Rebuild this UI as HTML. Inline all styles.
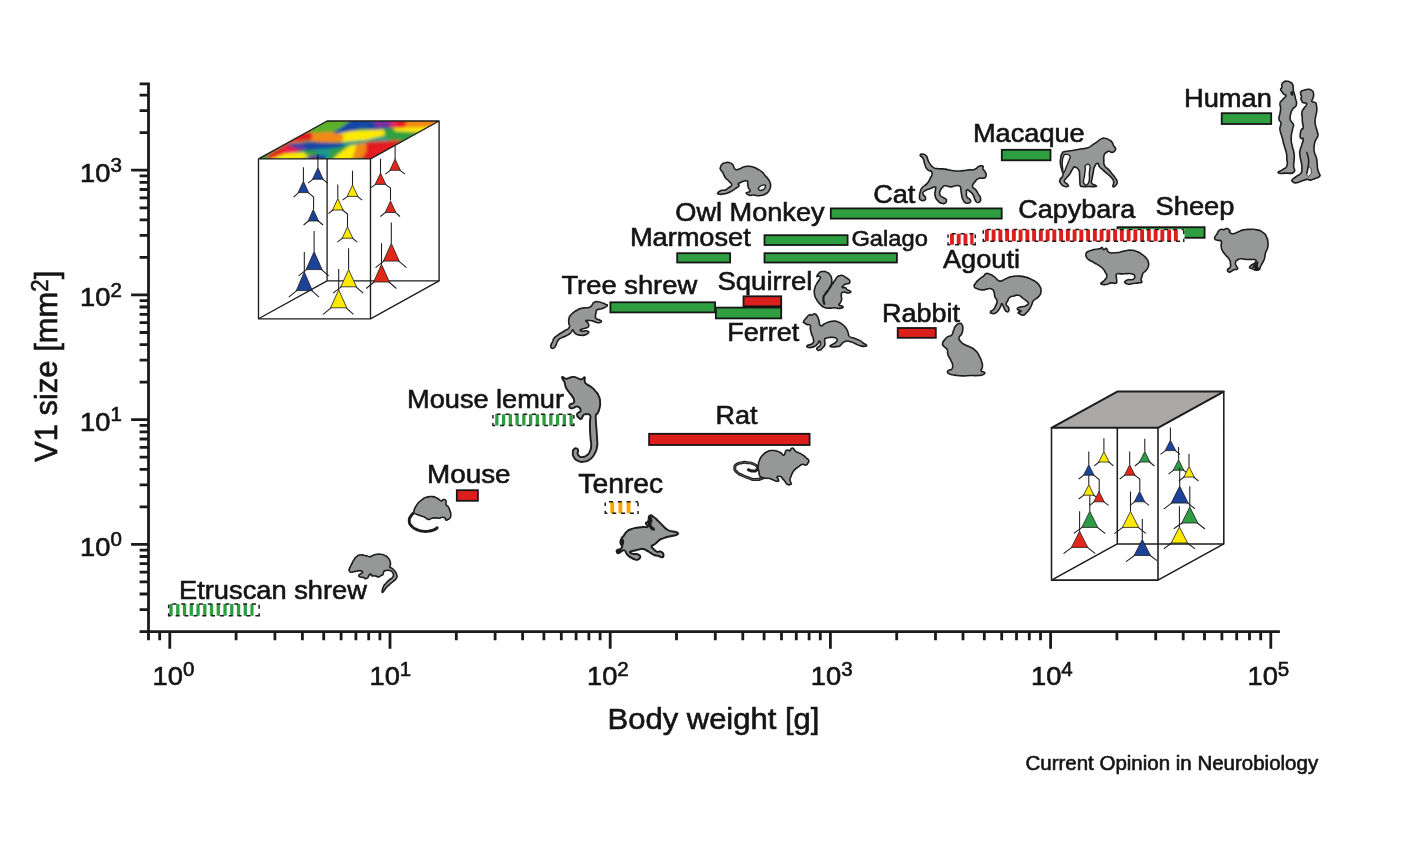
<!DOCTYPE html>
<html><head><meta charset="utf-8"><title>V1 size vs body weight</title>
<style>
html,body{margin:0;padding:0;background:#fff;}
body{width:1403px;height:844px;overflow:hidden;}
svg{display:block;}
text{font-family:"Liberation Sans",sans-serif;fill:#141414;stroke:#141414;stroke-width:0.6px;}
.ax{stroke:#1a1a1a;stroke-width:2.8;fill:none;}
.bar{stroke:#161616;stroke-width:1.8;}
.g{fill:#2e9e40;}
.r{fill:#dc1f1d;}
.an{fill:#969898;stroke:#1c1c1c;stroke-width:1.6;stroke-linejoin:round;}
.lb{font-size:26.5px;}
.tk{font-size:27.3px;}
.sup{font-size:20.5px;}
</style></head><body>
<svg width="1403" height="844" viewBox="0 0 1403 844">
<rect width="1403" height="844" fill="#fff"/>
<defs>
<pattern id="hg" width="6.4" height="12" patternUnits="userSpaceOnUse"><rect x="0" y="0" width="3.4" height="12" fill="#2e9e40"/></pattern>
<pattern id="hr" width="6.4" height="12" patternUnits="userSpaceOnUse"><rect x="0" y="0" width="3.4" height="12" fill="#dc1f1d"/></pattern>
<pattern id="ho" width="6.4" height="12" patternUnits="userSpaceOnUse"><rect x="0" y="0" width="3.4" height="12" fill="#f0a020"/></pattern>
</defs>

<path class="ax" d="M148.5 82.4 V631.7 M139.8 631.7 H1279.9 M139.6 631.6 H148.5 M139.6 609.6 H148.5 M139.6 594.0 H148.5 M139.6 581.9 H148.5 M139.6 572.1 H148.5 M139.6 563.7 H148.5 M139.6 556.5 H148.5 M139.6 550.1 H148.5 M131.1 544.4 H148.5 M139.6 506.9 H148.5 M139.6 484.9 H148.5 M139.6 469.3 H148.5 M139.6 457.2 H148.5 M139.6 447.3 H148.5 M139.6 439.0 H148.5 M139.6 431.8 H148.5 M139.6 425.4 H148.5 M131.1 419.7 H148.5 M139.6 382.1 H148.5 M139.6 360.2 H148.5 M139.6 344.6 H148.5 M139.6 332.5 H148.5 M139.6 322.6 H148.5 M139.6 314.3 H148.5 M139.6 307.0 H148.5 M139.6 300.6 H148.5 M131.1 294.9 H148.5 M139.6 257.4 H148.5 M139.6 235.4 H148.5 M139.6 219.8 H148.5 M139.6 207.8 H148.5 M139.6 197.9 H148.5 M139.6 189.5 H148.5 M139.6 182.3 H148.5 M139.6 175.9 H148.5 M131.1 170.2 H148.5 M139.6 132.7 H148.5 M139.6 110.7 H148.5 M139.6 95.1 H148.5 M139.6 83.8 H148.5 M148.5 631.7 V640.2 M159.7 631.7 V640.2 M169.8 631.7 V648.7 M236.1 631.7 V640.2 M274.9 631.7 V640.2 M302.4 631.7 V640.2 M323.7 631.7 V640.2 M341.1 631.7 V640.2 M355.9 631.7 V640.2 M368.7 631.7 V640.2 M379.9 631.7 V640.2 M390.0 631.7 V648.7 M456.3 631.7 V640.2 M495.1 631.7 V640.2 M522.6 631.7 V640.2 M543.9 631.7 V640.2 M561.3 631.7 V640.2 M576.1 631.7 V640.2 M588.9 631.7 V640.2 M600.1 631.7 V640.2 M610.2 631.7 V648.7 M676.5 631.7 V640.2 M715.3 631.7 V640.2 M742.8 631.7 V640.2 M764.1 631.7 V640.2 M781.5 631.7 V640.2 M796.3 631.7 V640.2 M809.1 631.7 V640.2 M820.3 631.7 V640.2 M830.4 631.7 V648.7 M896.7 631.7 V640.2 M935.5 631.7 V640.2 M963.0 631.7 V640.2 M984.3 631.7 V640.2 M1001.7 631.7 V640.2 M1016.5 631.7 V640.2 M1029.3 631.7 V640.2 M1040.5 631.7 V640.2 M1050.6 631.7 V648.7 M1116.9 631.7 V640.2 M1155.7 631.7 V640.2 M1183.2 631.7 V640.2 M1204.5 631.7 V640.2 M1221.9 631.7 V640.2 M1236.7 631.7 V640.2 M1249.5 631.7 V640.2 M1260.7 631.7 V640.2 M1270.8 631.7 V648.7"/>
<text transform="translate(80.1 555.8) scale(1.05 1)" style="font-size:26.00px">10<tspan style="font-size:19.52px" dy="-9.7">0</tspan></text>
<text transform="translate(80.1 431.1) scale(1.05 1)" style="font-size:26.00px">10<tspan style="font-size:19.52px" dy="-9.7">1</tspan></text>
<text transform="translate(80.1 306.3) scale(1.05 1)" style="font-size:26.00px">10<tspan style="font-size:19.52px" dy="-9.7">2</tspan></text>
<text transform="translate(80.1 181.6) scale(1.05 1)" style="font-size:26.00px">10<tspan style="font-size:19.52px" dy="-9.7">3</tspan></text>
<text transform="translate(152.6 685.4) scale(1.05 1)" style="font-size:26.00px">10<tspan style="font-size:19.52px" dy="-9.7">0</tspan></text>
<text transform="translate(369.5 685.4) scale(1.05 1)" style="font-size:26.00px">10<tspan style="font-size:19.52px" dy="-9.7">1</tspan></text>
<text transform="translate(587.0 685.4) scale(1.05 1)" style="font-size:26.00px">10<tspan style="font-size:19.52px" dy="-9.7">2</tspan></text>
<text transform="translate(810.8 685.4) scale(1.05 1)" style="font-size:26.00px">10<tspan style="font-size:19.52px" dy="-9.7">3</tspan></text>
<text transform="translate(1031.0 685.4) scale(1.05 1)" style="font-size:26.00px">10<tspan style="font-size:19.52px" dy="-9.7">4</tspan></text>
<text transform="translate(1247.5 685.4) scale(1.05 1)" style="font-size:26.00px">10<tspan style="font-size:19.52px" dy="-9.7">5</tspan></text>
<text transform="translate(607.5 729.2) scale(1.065 1)" style="font-size:29.11px">Body weight [g]</text>
<text transform="translate(56.6,462.0) rotate(-90) scale(1.012 1.05)" style="font-size:30.6px">V1 size [mm<tspan dy="-8.5" style="font-size:22px">2</tspan><tspan dy="8.5">]</tspan></text>
<text transform="translate(1025.5 769.6) scale(1.04 1)" style="font-size:19.71px">Current Opinion in Neurobiology</text>
<rect class="bar r" x="456.80" y="490.20" width="21.10" height="10.60"/>
<rect class="bar r" x="649.10" y="433.80" width="160.50" height="11.20"/>
<rect class="bar g" x="610.40" y="302.30" width="104.70" height="10.10"/>
<rect class="bar g" x="715.90" y="307.60" width="65.30" height="10.80"/>
<rect class="bar r" x="743.50" y="296.30" width="37.70" height="10.00"/>
<rect class="bar g" x="677.20" y="253.20" width="52.90" height="9.30"/>
<rect class="bar g" x="764.50" y="235.20" width="83.10" height="9.80"/>
<rect class="bar g" x="764.50" y="253.20" width="132.40" height="9.30"/>
<rect class="bar g" x="830.80" y="208.40" width="170.90" height="10.20"/>
<rect class="bar g" x="1001.80" y="149.80" width="48.70" height="10.50"/>
<rect class="bar g" x="1117.50" y="227.20" width="87.10" height="10.60"/>
<rect class="bar g" x="1221.70" y="113.20" width="49.50" height="10.80"/>
<rect class="bar r" x="897.70" y="328.00" width="38.10" height="9.80"/>
<rect x="167.90" y="603.90" width="92.00" height="12.60" fill="#fff"/>
<path d="M169.40 604.05h3.30V615.75h-3.30zM176.15 604.05h3.30V615.75h-3.30zM182.90 604.05h3.30V615.75h-3.30zM189.65 604.05h3.30V615.75h-3.30zM196.40 604.05h3.30V615.75h-3.30zM203.15 604.05h3.30V615.75h-3.30zM209.90 604.05h3.30V615.75h-3.30zM216.65 604.05h3.30V615.75h-3.30zM223.40 604.05h3.30V615.75h-3.30zM230.15 604.05h3.30V615.75h-3.30zM236.90 604.05h3.30V615.75h-3.30zM243.65 604.05h3.30V615.75h-3.30zM250.40 604.05h3.10V615.75h-3.10z" fill="#2e9e40"/>
<path d="M172.35 604.05H176.35M181.20 604.05H185.20M190.05 604.05H194.05M198.90 604.05H202.90M207.75 604.05H211.75M216.60 604.05H220.60M225.45 604.05H229.45M234.30 604.05H238.30M243.15 604.05H247.15M252.00 604.05H256.00M167.90 615.75H170.85M175.65 615.75H179.65M184.50 615.75H188.50M193.35 615.75H197.35M202.20 615.75H206.20M211.05 615.75H215.05M219.90 615.75H223.90M228.75 615.75H232.75M237.60 615.75H241.60M246.45 615.75H250.45M255.30 615.75H259.30M168.65 604.85V608.25M168.65 613.15V616.50M259.15 604.85V608.65M259.15 613.35V616.50" fill="none" stroke="#1c1c1c" stroke-width="1.5"/>
<rect x="492.20" y="414.10" width="82.40" height="12.20" fill="#fff"/>
<path d="M495.20 414.25h3.30V425.55h-3.30zM501.95 414.25h3.30V425.55h-3.30zM508.70 414.25h3.30V425.55h-3.30zM515.45 414.25h3.30V425.55h-3.30zM522.20 414.25h3.30V425.55h-3.30zM528.95 414.25h3.30V425.55h-3.30zM535.70 414.25h3.30V425.55h-3.30zM542.45 414.25h3.30V425.55h-3.30zM549.20 414.25h3.30V425.55h-3.30zM555.95 414.25h3.30V425.55h-3.30zM562.70 414.25h3.30V425.55h-3.30zM569.45 414.25h3.30V425.55h-3.30z" fill="#2e9e40"/>
<path d="M496.65 414.25H500.65M505.50 414.25H509.50M514.35 414.25H518.35M523.20 414.25H527.20M532.05 414.25H536.05M540.90 414.25H544.90M549.75 414.25H553.75M558.60 414.25H562.60M567.45 414.25H571.45M492.20 425.55H495.15M499.95 425.55H503.95M508.80 425.55H512.80M517.65 425.55H521.65M526.50 425.55H530.50M535.35 425.55H539.35M544.20 425.55H548.20M553.05 425.55H557.05M561.90 425.55H565.90M570.75 425.55H574.60M492.95 415.05V418.45M492.95 422.95V426.30M573.85 415.05V418.85M573.85 423.15V426.30" fill="none" stroke="#1c1c1c" stroke-width="1.5"/>
<rect x="604.50" y="501.60" width="34.30" height="12.50" fill="#fff"/>
<path d="M610.30 501.75h3.90V513.35h-3.90zM618.45 501.75h3.90V513.35h-3.90zM626.60 501.75h3.90V513.35h-3.90z" fill="#f5a800"/>
<path d="M608.95 501.75H612.95M617.80 501.75H621.80M626.65 501.75H630.65M635.50 501.75H638.05M604.50 513.35H607.45M612.25 513.35H616.25M621.10 513.35H625.10M629.95 513.35H633.95M605.25 502.55V505.95M605.25 510.75V514.10M638.05 502.55V506.35M638.05 510.95V514.10" fill="none" stroke="#1c1c1c" stroke-width="1.5"/>
<rect x="947.30" y="233.50" width="28.70" height="12.00" fill="#fff"/>
<path d="M950.00 233.65h3.90V244.75h-3.90zM956.75 233.65h3.90V244.75h-3.90zM963.50 233.65h3.90V244.75h-3.90zM970.25 233.65h3.25V244.75h-3.25z" fill="#dc1f1d"/>
<path d="M951.75 233.65H955.75M960.60 233.65H964.60M969.45 233.65H973.45M947.30 244.75H950.25M955.05 244.75H959.05M963.90 244.75H967.90M972.75 244.75H976.00M948.05 234.45V237.85M948.05 242.15V245.50M975.25 234.45V238.25M975.25 242.35V245.50" fill="none" stroke="#1c1c1c" stroke-width="1.5"/>
<rect x="982.50" y="229.30" width="202.00" height="12.70" fill="#fff"/>
<path d="M984.90 229.45h3.90V241.25h-3.90zM991.65 229.45h3.90V241.25h-3.90zM998.40 229.45h3.90V241.25h-3.90zM1005.15 229.45h3.90V241.25h-3.90zM1011.90 229.45h3.90V241.25h-3.90zM1018.65 229.45h3.90V241.25h-3.90zM1025.40 229.45h3.90V241.25h-3.90zM1032.15 229.45h3.90V241.25h-3.90zM1038.90 229.45h3.90V241.25h-3.90zM1045.65 229.45h3.90V241.25h-3.90zM1052.40 229.45h3.90V241.25h-3.90zM1059.15 229.45h3.90V241.25h-3.90zM1065.90 229.45h3.90V241.25h-3.90zM1072.65 229.45h3.90V241.25h-3.90zM1079.40 229.45h3.90V241.25h-3.90zM1086.15 229.45h3.90V241.25h-3.90zM1092.90 229.45h3.90V241.25h-3.90zM1099.65 229.45h3.90V241.25h-3.90zM1106.40 229.45h3.90V241.25h-3.90zM1113.15 229.45h3.90V241.25h-3.90zM1119.90 229.45h3.90V241.25h-3.90zM1126.65 229.45h3.90V241.25h-3.90zM1133.40 229.45h3.90V241.25h-3.90zM1140.15 229.45h3.90V241.25h-3.90zM1146.90 229.45h3.90V241.25h-3.90zM1153.65 229.45h3.90V241.25h-3.90zM1160.40 229.45h3.90V241.25h-3.90zM1167.15 229.45h3.90V241.25h-3.90zM1173.90 229.45h3.90V241.25h-3.90z" fill="#dc1f1d"/>
<path d="M986.95 229.45H990.95M995.80 229.45H999.80M1004.65 229.45H1008.65M1013.50 229.45H1017.50M1022.35 229.45H1026.35M1031.20 229.45H1035.20M1040.05 229.45H1044.05M1048.90 229.45H1052.90M1057.75 229.45H1061.75M1066.60 229.45H1070.60M1075.45 229.45H1079.45M1084.30 229.45H1088.30M1093.15 229.45H1097.15M1102.00 229.45H1106.00M1110.85 229.45H1114.85M1119.70 229.45H1123.70M1128.55 229.45H1132.55M1137.40 229.45H1141.40M1146.25 229.45H1150.25M1155.10 229.45H1159.10M1163.95 229.45H1167.95M1172.80 229.45H1176.80M1181.65 229.45H1183.75M982.50 241.25H985.45M990.25 241.25H994.25M999.10 241.25H1003.10M1007.95 241.25H1011.95M1016.80 241.25H1020.80M1025.65 241.25H1029.65M1034.50 241.25H1038.50M1043.35 241.25H1047.35M1052.20 241.25H1056.20M1061.05 241.25H1065.05M1069.90 241.25H1073.90M1078.75 241.25H1082.75M1087.60 241.25H1091.60M1096.45 241.25H1100.45M1105.30 241.25H1109.30M1114.15 241.25H1118.15M1123.00 241.25H1127.00M1131.85 241.25H1135.85M1140.70 241.25H1144.70M1149.55 241.25H1153.55M1158.40 241.25H1162.40M1167.25 241.25H1171.25M1176.10 241.25H1180.10M983.25 230.25V233.65M983.25 238.65V242.00M1183.75 230.25V234.05M1183.75 238.85V242.00" fill="none" stroke="#1c1c1c" stroke-width="1.5"/>
<text transform="translate(179.0 598.9) scale(1.05 1)" style="font-size:25.98px">Etruscan shrew</text>
<text transform="translate(427.0 483.2) scale(1.05 1)" style="font-size:26.51px">Mouse</text>
<text transform="translate(407.1 407.5) scale(1.05 1)" style="font-size:25.86px">Mouse lemur</text>
<text transform="translate(578.3 493.3) scale(1.05 1)" style="font-size:26.95px">Tenrec</text>
<text transform="translate(715.5 424.3) scale(1.05 1)" style="font-size:25.71px">Rat</text>
<text transform="translate(561.4 293.8) scale(1.05 1)" style="font-size:26.06px">Tree shrew</text>
<text transform="translate(727.2 341.3) scale(1.05 1)" style="font-size:25.71px">Ferret</text>
<text transform="translate(717.4 290.4) scale(1.05 1)" style="font-size:26.26px">Squirrel</text>
<text transform="translate(629.9 245.9) scale(1.05 1)" style="font-size:25.91px">Marmoset</text>
<text transform="translate(675.3 220.9) scale(1.05 1)" style="font-size:25.86px">Owl Monkey</text>
<text transform="translate(873.2 202.6) scale(1.05 1)" style="font-size:25.83px">Cat</text>
<text transform="translate(943.0 268.4) scale(1.05 1)" style="font-size:25.86px">Agouti</text>
<text transform="translate(1018.2 218.3) scale(1.05 1)" style="font-size:25.71px">Capybara</text>
<text transform="translate(1155.5 215.3) scale(1.05 1)" style="font-size:26.02px">Sheep</text>
<text transform="translate(973.0 142.3) scale(1.05 1)" style="font-size:25.87px">Macaque</text>
<text transform="translate(1184.0 106.9) scale(1.05 1)" style="font-size:25.98px">Human</text>
<text transform="translate(881.9 322.3) scale(1.05 1)" style="font-size:25.71px">Rabbit</text>
<text transform="translate(851.4 245.9) scale(1.05 1)" style="font-size:22.58px">Galago</text>
<g id="cube1">
<path d="M327.1 121.0V280.90000000000003H439.1M258.5 318.8L327.1 280.90000000000003" fill="none" stroke="#1c1c1c" stroke-width="1.3"/>
<clipPath id="mapclip"><path d="M258.5 158.9H370.5L439.1 121.0H327.1Z"/></clipPath>
<filter id="blur1" x="-10%" y="-10%" width="120%" height="120%"><feGaussianBlur stdDeviation="1.4"/></filter>
<g clip-path="url(#mapclip)"><g filter="url(#blur1)">
<polygon points="248.2,161.0 376.9,161.0 447.3,117.7 320.0,117.7" fill="#2fa043"/>
<polygon points="320.0,117.7 360.6,117.7 341.7,129.9 328.1,134.0 306.5,132.6" fill="#5cb02c"/>
<polygon points="353.9,117.7 391.8,117.7 390.4,127.9 376.9,129.9 360.6,128.5 344.4,133.3 330.8,134.0 341.7,127.2" fill="#1746a6"/>
<polygon points="371.5,119.1 395.8,119.1 391.8,125.8 376.9,127.9" fill="#7a2fa0"/>
<polygon points="391.8,118.4 404.0,118.4 398.6,127.9 389.1,127.2" fill="#e8205e"/>
<polygon points="398.6,118.4 414.8,118.4 406.7,128.5 395.8,128.5" fill="#e31b23"/>
<polygon points="408.0,118.4 447.3,118.4 431.1,127.2 404.0,127.9" fill="#f28a12"/>
<polygon points="393.1,127.9 429.7,126.9 421.6,132.3 395.8,131.5" fill="#fdea00"/>
<polygon points="383.7,131.3 417.5,132.3 404.0,142.1 376.9,139.4" fill="#2fa043"/>
<polygon points="341.7,142.1 385.0,136.7 390.4,140.7 366.1,144.1 344.4,146.1" fill="#1f9a8a"/>
<polygon points="330.8,135.3 349.8,131.3 383.7,129.2 385.0,135.3 366.1,140.1 341.7,142.1" fill="#fdea00"/>
<polygon points="309.2,133.3 330.8,131.9 344.4,135.3 341.7,142.1 325.4,142.8 309.2,140.7" fill="#f28a12"/>
<polygon points="287.5,134.0 311.9,131.9 311.9,140.1 295.6,142.1 279.4,143.4" fill="#e31b23"/>
<polygon points="279.4,144.1 295.6,141.4 325.4,142.1 328.1,144.1 295.6,145.5" fill="#f28a12"/>
<polygon points="284.8,144.1 311.9,142.1 344.4,143.4 341.7,148.9 320.0,151.6 299.7,150.9 286.1,147.5" fill="#1746a6"/>
<polygon points="294.3,146.8 305.1,146.8 303.8,150.9 295.6,150.5" fill="#7a2fa0"/>
<polygon points="260.4,159.7 286.1,144.1 299.7,150.5 288.9,155.6 271.3,159.7" fill="#e31b23"/>
<polygon points="282.1,146.8 295.6,149.5 299.7,152.2 286.1,152.2" fill="#e8205e"/>
<polygon points="268.5,159.7 284.8,153.6 309.2,152.2 311.9,155.6 299.7,159.7" fill="#fdea00"/>
<polygon points="257.7,160.4 261.8,155.6 269.9,158.1 268.5,160.4" fill="#2fa043"/>
<polygon points="302.4,150.5 317.3,149.9 318.7,155.6 306.5,155.6" fill="#2fa043"/>
<polygon points="314.6,149.5 341.7,147.5 336.3,155.6 330.8,159.7 320.0,159.7" fill="#1f9a8a"/>
<polygon points="309.2,155.4 322.7,155.6 322.7,160.4 306.5,160.4" fill="#7a2fa0"/>
<polygon points="314.6,155.6 325.4,155.0 325.4,160.4 315.9,160.4" fill="#1746a6"/>
<polygon points="336.3,155.6 349.8,145.5 362.0,144.1 357.9,155.6 349.8,160.4 332.2,160.4" fill="#fdea00"/>
<polygon points="330.8,148.9 344.4,146.4 336.3,155.6 328.1,159.7" fill="#2fa043"/>
<polygon points="356.6,144.1 368.8,142.8 367.4,155.6 351.2,160.4 353.9,154.3" fill="#f28a12"/>
<polygon points="366.1,142.1 402.6,140.1 390.4,150.2 371.5,160.4 360.6,160.4 366.1,151.6" fill="#e31b23"/>
</g></g>
<path d="M258.5 158.9H370.5V318.8H258.5Z M258.5 158.9L327.1 121.0H439.1L370.5 158.9 M439.1 121.0V280.90000000000003L370.5 318.8" fill="none" stroke="#1c1c1c" stroke-width="1.35" stroke-linejoin="round"/>
<path d="M317.9 167.8v-13.5M313.6 178.7l-5.5 4.5M322.1 178.7l5.5 4.5" fill="none" stroke="#1c1c1c" stroke-width="1.05"/>
<path d="M317.9 167.8L323.1 179.2H312.6Z" fill="#1d4299" stroke="#1c1c1c" stroke-width="0.8" stroke-linejoin="miter"/>
<path d="M303.4 181.2v-13.9M299.1 192.1l-5.5 5.0M307.6 192.1L313.6 197.1L313.6 209.6" fill="none" stroke="#1c1c1c" stroke-width="1.05"/>
<path d="M303.4 181.2L308.6 192.6H298.1Z" fill="#1d4299" stroke="#1c1c1c" stroke-width="0.8" stroke-linejoin="miter"/>
<path d="M309.1 220.5l-5.5 4.5M317.6 220.5l5.5 4.5" fill="none" stroke="#1c1c1c" stroke-width="1.05"/>
<path d="M313.3 209.6L318.6 221.0H308.1Z" fill="#1d4299" stroke="#1c1c1c" stroke-width="0.8" stroke-linejoin="miter"/>
<path d="M314.1 251.6v-20.5M307.1 269.1l-8.5 6.7M321.1 269.1l7.5 6.7" fill="none" stroke="#1c1c1c" stroke-width="1.05"/>
<path d="M314.1 251.6L322.1 269.6H306.1Z" fill="#1d4299" stroke="#1c1c1c" stroke-width="0.8" stroke-linejoin="miter"/>
<path d="M304.3 271.9v-19.8M297.3 290.1l-8.5 7.0M311.3 290.1l7.7 7.0" fill="none" stroke="#1c1c1c" stroke-width="1.05"/>
<path d="M304.3 271.9L312.3 290.6H296.3Z" fill="#1d4299" stroke="#1c1c1c" stroke-width="0.8" stroke-linejoin="miter"/>
<path d="M352.5 185.0v-14.2M348.2 195.9l-5.6 4.3M356.8 195.9l5.4 4.3" fill="none" stroke="#1c1c1c" stroke-width="1.05"/>
<path d="M352.5 185.0L357.8 196.4H347.2Z" fill="#fdea00" stroke="#1c1c1c" stroke-width="0.8" stroke-linejoin="miter"/>
<path d="M337.8 198.6v-14.2M333.6 209.5l-5.2 4.2M342.1 209.5L347.5 214.0L347.5 227.5" fill="none" stroke="#1c1c1c" stroke-width="1.05"/>
<path d="M337.8 198.6L343.1 210.0H332.6Z" fill="#fdea00" stroke="#1c1c1c" stroke-width="0.8" stroke-linejoin="miter"/>
<path d="M343.2 237.7l-5.8 4.5M351.8 237.7l5.4 4.5" fill="none" stroke="#1c1c1c" stroke-width="1.05"/>
<path d="M347.5 226.8L352.8 238.2H342.2Z" fill="#fdea00" stroke="#1c1c1c" stroke-width="0.8" stroke-linejoin="miter"/>
<path d="M348.6 269.6v-21.4M341.8 286.3l-8.8 6.8M355.5 286.3l7.6 6.8" fill="none" stroke="#1c1c1c" stroke-width="1.05"/>
<path d="M348.6 269.6L356.5 286.8H340.8Z" fill="#fdea00" stroke="#1c1c1c" stroke-width="0.8" stroke-linejoin="miter"/>
<path d="M338.7 289.8v-20.7M331.6 307.3l-8.4 7.0M345.8 307.3l7.6 7.0" fill="none" stroke="#1c1c1c" stroke-width="1.05"/>
<path d="M338.7 289.8L346.8 307.8H330.6Z" fill="#fdea00" stroke="#1c1c1c" stroke-width="0.8" stroke-linejoin="miter"/>
<path d="M395.1 158.9v-13.5M390.9 169.8l-5.5 4.4M399.4 169.8l5.6 4.4" fill="none" stroke="#1c1c1c" stroke-width="1.05"/>
<path d="M395.1 158.9L400.4 170.3H389.9Z" fill="#e0291b" stroke="#1c1c1c" stroke-width="0.8" stroke-linejoin="miter"/>
<path d="M380.5 173.0v-14.2M376.2 183.9l-5.2 3.8M384.8 183.9L390.5 188.1L390.5 200.6" fill="none" stroke="#1c1c1c" stroke-width="1.05"/>
<path d="M380.5 173.0L385.8 184.4H375.2Z" fill="#e0291b" stroke="#1c1c1c" stroke-width="0.8" stroke-linejoin="miter"/>
<path d="M386.2 211.9l-5.8 4.6M394.8 211.9l5.2 4.6" fill="none" stroke="#1c1c1c" stroke-width="1.05"/>
<path d="M390.5 201.0L395.8 212.4H385.2Z" fill="#e0291b" stroke="#1c1c1c" stroke-width="0.8" stroke-linejoin="miter"/>
<path d="M391.3 243.4v-21.0M384.4 260.6l-8.8 7.0M398.2 260.6l8.3 7.0" fill="none" stroke="#1c1c1c" stroke-width="1.05"/>
<path d="M391.3 243.4L399.2 261.1H383.4Z" fill="#e0291b" stroke="#1c1c1c" stroke-width="0.8" stroke-linejoin="miter"/>
<path d="M381.5 264.3v-21.0M374.6 281.5l-8.4 7.0M388.4 281.5l8.0 7.0" fill="none" stroke="#1c1c1c" stroke-width="1.05"/>
<path d="M381.5 264.3L389.4 282.0H373.6Z" fill="#e0291b" stroke="#1c1c1c" stroke-width="0.8" stroke-linejoin="miter"/>
</g>
<g id="cube2">
<path d="M1117.3 391.6V543.9H1223.8M1051.5 580.1L1117.3 543.9" fill="none" stroke="#1c1c1c" stroke-width="1.55"/>
<path d="M1051.5 427.8H1158.0L1223.8 391.6H1117.3Z" fill="#a9a8a6" stroke="#1c1c1c" stroke-width="2.0" stroke-linejoin="round"/>
<path d="M1051.5 427.8V580.1H1158.0V427.8 M1223.8 391.6V543.9L1158.0 580.1" fill="none" stroke="#1c1c1c" stroke-width="1.55" stroke-linejoin="round"/>
<path d="M1103.9 451.6v-13.3M1099.7 461.5l-5.5 4.3M1108.2 461.5l5.2 4.3" fill="none" stroke="#1c1c1c" stroke-width="1.05"/>
<path d="M1103.9 451.6L1109.2 462.0H1098.7Z" fill="#fdea00" stroke="#1c1c1c" stroke-width="0.8" stroke-linejoin="miter"/>
<path d="M1088.8 464.8v-13.3M1084.5 474.7l-5.8 4.3M1093.0 474.7L1099.2 479.5L1099.2 491.9" fill="none" stroke="#1c1c1c" stroke-width="1.05"/>
<path d="M1088.8 464.8L1094.0 475.2H1083.5Z" fill="#1d4299" stroke="#1c1c1c" stroke-width="0.8" stroke-linejoin="miter"/>
<path d="M1088.8 484.8v-9.6M1084.5 494.7l-5.8 4.3M1093.0 494.7l3.0 2.0" fill="none" stroke="#1c1c1c" stroke-width="1.05"/>
<path d="M1088.8 484.8L1094.0 495.2H1083.5Z" fill="#fdea00" stroke="#1c1c1c" stroke-width="0.8" stroke-linejoin="miter"/>
<path d="M1094.8 501.3l-5.2 4.0M1103.2 501.3l5.4 4.0" fill="none" stroke="#1c1c1c" stroke-width="1.05"/>
<path d="M1099.0 491.4L1104.2 501.8H1093.8Z" fill="#e0291b" stroke="#1c1c1c" stroke-width="0.8" stroke-linejoin="miter"/>
<path d="M1089.8 511.3v-15.7M1082.8 526.9l-9.0 6.5M1096.8 526.9l8.5 6.7" fill="none" stroke="#1c1c1c" stroke-width="1.05"/>
<path d="M1089.8 511.3L1097.8 527.4H1081.8Z" fill="#2e9c44" stroke="#1c1c1c" stroke-width="0.8" stroke-linejoin="miter"/>
<path d="M1079.6 531.3v-20.0M1072.4 546.9l-8.8 6.7M1086.8 546.9l8.5 6.7" fill="none" stroke="#1c1c1c" stroke-width="1.05"/>
<path d="M1079.6 531.3L1087.8 547.4H1071.4Z" fill="#e0291b" stroke="#1c1c1c" stroke-width="0.8" stroke-linejoin="miter"/>
<path d="M1144.8 451.6v-12.8M1140.5 461.5l-5.6 4.5M1149.0 461.5l5.4 4.5" fill="none" stroke="#1c1c1c" stroke-width="1.05"/>
<path d="M1144.8 451.6L1150.0 462.0H1139.5Z" fill="#2e9c44" stroke="#1c1c1c" stroke-width="0.8" stroke-linejoin="miter"/>
<path d="M1129.7 464.8v-13.3M1125.5 474.7l-5.8 4.3M1134.0 474.7L1139.8 479.1L1139.8 491.2" fill="none" stroke="#1c1c1c" stroke-width="1.05"/>
<path d="M1129.7 464.8L1135.0 475.2H1124.5Z" fill="#e0291b" stroke="#1c1c1c" stroke-width="0.8" stroke-linejoin="miter"/>
<path d="M1135.3 501.3l-5.3 4.0M1143.8 501.3l5.3 4.0" fill="none" stroke="#1c1c1c" stroke-width="1.05"/>
<path d="M1139.6 491.4L1144.8 501.8H1134.3Z" fill="#1d4299" stroke="#1c1c1c" stroke-width="0.8" stroke-linejoin="miter"/>
<path d="M1130.5 511.4v-20.0M1123.4 526.9l-9.0 6.7M1137.6 526.9l8.2 6.5" fill="none" stroke="#1c1c1c" stroke-width="1.05"/>
<path d="M1130.5 511.4L1138.6 527.4H1122.4Z" fill="#fdea00" stroke="#1c1c1c" stroke-width="0.8" stroke-linejoin="miter"/>
<path d="M1142.3 539.5v-20.4M1135.1 555.0l-9.0 6.7M1149.5 555.0l7.5 5.7" fill="none" stroke="#1c1c1c" stroke-width="1.05"/>
<path d="M1142.3 539.5L1150.5 555.5H1134.1Z" fill="#1d4299" stroke="#1c1c1c" stroke-width="0.8" stroke-linejoin="miter"/>
<path d="M1170.4 440.2v-12.8M1166.2 450.1l-5.8 4.3M1174.7 450.1l5.4 4.3" fill="none" stroke="#1c1c1c" stroke-width="1.05"/>
<path d="M1170.4 440.2L1175.7 450.6H1165.2Z" fill="#1d4299" stroke="#1c1c1c" stroke-width="0.8" stroke-linejoin="miter"/>
<path d="M1178.6 459.8v-12.8M1174.3 469.7l-5.8 4.5M1182.8 469.7l5.0 3.9" fill="none" stroke="#1c1c1c" stroke-width="1.05"/>
<path d="M1178.6 459.8L1183.8 470.2H1173.3Z" fill="#2e9c44" stroke="#1c1c1c" stroke-width="0.8" stroke-linejoin="miter"/>
<path d="M1189.0 466.6v-12.8M1184.8 476.5l-6.0 4.6M1193.2 476.5l5.4 4.6" fill="none" stroke="#1c1c1c" stroke-width="1.05"/>
<path d="M1189.0 466.6L1194.2 477.0H1183.8Z" fill="#fdea00" stroke="#1c1c1c" stroke-width="0.8" stroke-linejoin="miter"/>
<path d="M1179.7 486.1v-18.5M1172.2 502.6l-8.5 6.5M1187.2 502.6l7.8 6.2" fill="none" stroke="#1c1c1c" stroke-width="1.05"/>
<path d="M1179.7 486.1L1188.2 503.1H1171.2Z" fill="#1d4299" stroke="#1c1c1c" stroke-width="0.8" stroke-linejoin="miter"/>
<path d="M1189.8 507.0v-20.7M1182.8 522.5l-9.0 6.2M1196.8 522.5l8.2 6.5" fill="none" stroke="#1c1c1c" stroke-width="1.05"/>
<path d="M1189.8 507.0L1197.8 523.0H1181.8Z" fill="#2e9c44" stroke="#1c1c1c" stroke-width="0.8" stroke-linejoin="miter"/>
<path d="M1179.4 527.0v-20.7M1172.2 542.5l-8.5 6.4M1186.6 542.5l8.5 6.4" fill="none" stroke="#1c1c1c" stroke-width="1.05"/>
<path d="M1179.4 527.0L1187.6 543.0H1171.2Z" fill="#fdea00" stroke="#1c1c1c" stroke-width="0.8" stroke-linejoin="miter"/>
</g>
<g id="shrew">
<path class="an" d="M349.3 568.9C350.1 566.9 350.0 567.5 351.6 564.2C353.3 561.0 352.6 561.8 354.3 559.3C355.9 556.7 354.7 558.1 356.6 556.6C358.5 555.2 357.5 555.4 359.9 555.0C362.3 554.5 361.2 554.8 363.9 555.3C366.5 555.7 365.7 555.8 367.9 556.3C370.1 556.7 368.8 556.9 370.5 556.6C372.3 556.3 371.0 556.1 373.2 555.3C375.4 554.5 374.5 554.6 377.2 554.3C379.8 554.0 378.5 553.8 381.1 554.3C383.8 554.7 382.7 554.3 385.1 555.6C387.6 556.9 386.8 556.3 388.4 558.3C390.1 560.3 389.4 559.4 390.1 561.6C390.8 563.8 390.5 563.0 390.4 564.9C390.3 566.8 389.1 566.0 389.8 567.2C390.4 568.4 390.7 567.1 392.4 568.6C394.2 570.0 393.6 569.4 395.1 571.5C396.5 573.6 396.3 572.6 396.7 574.9C397.2 577.1 397.6 576.0 396.4 578.2C395.2 580.4 395.5 579.3 393.1 581.5C390.7 583.7 391.5 582.6 389.1 584.8C386.7 587.0 388.0 585.6 385.8 588.1C383.6 590.7 383.4 592.7 382.5 592.4C381.6 592.2 382.0 590.5 383.1 587.5C384.2 584.5 383.8 585.9 385.8 583.5C387.8 581.1 386.9 582.2 389.1 580.2C391.3 578.2 391.0 579.3 392.4 577.5C393.9 575.7 393.4 576.6 393.4 574.9C393.4 573.1 393.6 573.6 392.4 572.2C391.2 570.8 391.8 571.1 389.8 570.5C387.8 570.0 388.4 570.2 386.4 570.5C384.5 570.9 384.9 570.3 383.8 571.5C382.7 572.8 384.2 572.8 383.1 574.2C382.0 575.6 382.0 575.0 380.5 575.9C378.9 576.7 380.3 576.9 378.5 576.9C376.7 576.9 377.4 576.2 375.2 575.9C373.0 575.5 373.2 576.4 371.9 575.9C370.5 575.3 372.1 574.5 371.2 574.2C370.3 573.9 370.3 573.8 369.2 574.9C368.1 576.0 369.1 576.2 367.9 577.5C366.7 578.8 366.9 578.8 365.5 578.8C364.2 578.8 365.8 578.2 363.9 577.5C362.0 576.9 361.6 577.6 359.9 576.9C358.2 576.1 358.5 576.3 358.9 575.2C359.4 574.1 360.0 574.5 361.2 573.5C362.5 572.5 362.6 573.1 362.6 572.2C362.6 571.3 362.8 571.3 361.2 570.9C359.7 570.4 360.1 570.7 357.9 570.9C355.7 571.1 357.0 571.1 354.6 571.5C352.2 572.0 352.4 572.6 350.6 572.2C348.8 571.8 349.7 571.3 349.3 570.2C348.8 569.1 348.5 570.9 349.3 568.9Z"/>
</g>
<g id="mouse">
<path d="M414.3 512.2C413.1 513.7 412.3 513.5 410.6 516.5C409.0 519.5 409.1 518.1 409.3 521.2C409.5 524.3 409.1 523.2 411.3 525.8C413.5 528.5 412.4 527.4 415.9 529.1C419.5 530.9 417.7 530.5 421.9 531.1C426.1 531.8 424.6 531.6 428.5 531.1C432.5 530.7 431.0 530.9 433.8 529.8C436.7 528.7 436.1 528.5 437.2 527.8" fill="none" stroke="#1c1c1c" stroke-width="2.9" stroke-linecap="round"/>
<path class="an" d="M413.9 511.9C414.2 509.0 413.9 509.2 416.6 505.3C419.2 501.3 418.6 502.6 421.9 499.9C425.2 497.3 423.0 498.4 426.5 497.3C430.1 496.2 429.0 496.3 432.5 496.6C436.1 497.0 434.3 496.8 437.2 498.3C440.0 499.7 439.4 500.4 441.1 500.9C442.9 501.5 441.4 500.4 442.5 499.9C443.6 499.5 443.2 499.2 444.5 499.6C445.7 500.1 445.6 499.6 446.1 501.3C446.7 502.9 445.3 502.6 446.1 504.6C446.9 506.6 447.1 505.0 448.4 507.2C449.8 509.5 449.3 508.8 450.1 511.2C450.9 513.7 450.8 512.3 450.8 514.5C450.8 516.8 451.1 516.2 450.1 517.9C449.1 519.5 449.2 518.9 447.8 519.5C446.3 520.2 446.7 520.3 445.8 519.9C444.9 519.4 446.2 519.1 445.1 518.2C444.0 517.3 444.5 517.2 442.5 517.2C440.5 517.2 441.4 518.0 439.2 518.2C436.9 518.4 438.3 517.9 435.8 517.9C433.4 517.9 434.1 517.6 431.9 518.2C429.6 518.7 430.7 519.3 429.2 519.5C427.6 519.7 428.8 519.6 427.2 518.9C425.7 518.1 427.0 518.3 424.6 517.2C422.1 516.1 422.8 516.6 419.9 515.5C417.0 514.4 417.9 515.1 415.9 513.9C413.9 512.7 413.7 514.8 413.9 511.9Z"/>
</g>
<g id="lemur">
<path class="an" style="stroke-width:1.9" d="M562.5 376.9C563.5 376.7 563.7 378.3 565.7 378.7C567.8 379.1 566.1 378.7 568.7 378.1C571.3 377.5 570.1 376.7 573.4 376.9C576.8 377.1 576.0 377.9 578.8 378.7C581.5 379.5 579.8 379.7 581.7 379.3C583.7 378.8 583.7 376.6 584.7 377.2C585.7 377.8 584.1 378.8 584.7 381.0C585.3 383.3 584.3 382.0 586.5 384.0C588.6 386.0 588.0 384.4 591.2 387.0C594.4 389.5 593.4 388.5 595.9 391.7C598.5 394.9 597.5 392.9 598.9 396.4C600.3 400.0 599.9 398.4 600.1 402.4C600.3 406.3 600.3 404.7 599.5 408.3C598.7 411.8 598.9 410.7 597.7 413.0C596.5 415.4 596.5 412.6 595.9 415.4C595.4 418.2 595.8 416.6 595.9 421.3C596.1 426.1 596.1 423.7 596.5 429.6C596.9 435.5 596.9 433.6 597.1 439.1C597.3 444.6 597.9 441.5 597.1 446.2C596.3 450.9 597.1 449.0 594.8 453.3C592.4 457.7 593.6 456.5 590.0 459.2C586.5 462.0 588.0 461.0 584.1 461.6C580.2 462.2 581.5 462.4 578.2 461.0C574.8 459.6 575.8 460.2 574.0 457.5C572.3 454.7 572.8 455.5 572.8 452.7C572.8 450.0 572.6 450.5 574.0 449.2C575.4 447.8 575.6 448.0 577.0 448.6C578.4 449.2 578.0 449.4 578.2 450.9C578.4 452.5 577.2 451.5 577.6 453.3C578.0 455.1 577.6 455.1 579.4 456.3C581.1 457.5 580.3 457.3 582.9 456.9C585.5 456.5 584.7 457.1 587.1 455.1C589.4 453.1 588.6 454.3 590.0 450.9C591.4 447.6 591.0 449.0 591.2 445.0C591.4 441.1 591.0 444.2 590.6 439.1C590.2 434.0 590.2 435.5 590.0 429.6C589.8 423.7 590.0 426.1 590.0 421.3C590.0 416.6 591.6 417.8 590.0 415.4C588.4 413.0 587.7 414.0 585.3 414.2C582.9 414.4 584.3 414.4 582.9 416.0C581.5 417.6 582.5 418.4 581.1 418.9C579.8 419.5 580.2 419.1 578.8 417.8C577.4 416.4 577.0 416.6 577.0 414.8C577.0 413.0 577.6 413.6 578.8 412.4C580.0 411.2 580.2 412.6 580.5 411.2C580.9 409.9 581.1 409.9 580.0 408.3C578.8 406.7 579.0 406.7 577.0 406.5C575.0 406.3 576.0 407.1 574.0 407.7C572.1 408.3 572.6 408.7 571.1 408.3C569.5 407.9 569.5 407.9 569.3 406.5C569.1 405.1 569.1 405.3 570.5 404.1C571.9 403.0 572.3 404.3 573.4 403.0C574.6 401.6 574.4 402.2 574.0 400.0C573.6 397.8 574.0 399.2 572.3 396.4C570.5 393.7 570.9 394.9 568.7 391.7C566.5 388.5 567.1 390.1 565.7 387.0C564.4 383.8 565.5 384.8 564.5 382.2C563.6 379.7 563.4 381.0 562.8 379.3C562.1 377.5 561.5 377.1 562.5 376.9Z"/>
</g>
<g id="tenrec">
<path class="an" style="stroke-width:2.0" d="M649.7 515.6C651.8 514.4 651.5 515.7 654.3 517.5C657.1 519.3 655.3 518.3 658.1 520.9C660.9 523.6 659.3 522.4 662.6 525.5C665.9 528.5 664.4 528.0 667.9 530.0C671.5 532.0 670.1 530.7 673.2 531.5C676.4 532.4 676.1 531.7 677.4 532.7C678.7 533.7 678.4 533.6 677.0 534.6C675.6 535.6 676.3 534.9 673.2 535.7C670.2 536.5 671.2 536.0 667.9 536.8C664.6 537.7 666.2 537.3 663.4 538.4C660.6 539.4 661.6 538.6 659.6 539.9C657.6 541.1 659.1 540.6 657.3 542.1C655.5 543.7 656.2 543.0 654.3 544.4C652.4 545.8 651.9 544.8 651.6 546.3C651.4 547.8 651.9 547.2 653.5 549.0C655.2 550.7 654.5 550.7 656.6 551.6C658.6 552.5 657.6 551.2 659.6 551.6C661.6 552.0 661.4 551.4 662.6 552.8C663.9 554.2 663.6 554.3 663.4 555.8C663.1 557.3 663.6 557.3 661.9 557.3C660.1 557.3 660.6 556.6 658.1 555.8C655.5 555.0 656.8 556.0 654.3 555.0C651.8 554.0 653.0 554.3 650.5 552.8C648.0 551.2 649.2 551.8 646.7 550.5C644.2 549.2 645.4 549.4 642.9 549.0C640.4 548.6 641.6 548.8 639.1 549.4C636.6 549.9 637.9 549.9 635.3 550.5C632.8 551.1 633.3 550.6 631.5 551.2C629.8 551.9 629.5 551.5 630.0 552.4C630.5 553.3 630.5 553.3 633.1 553.9C635.6 554.5 635.2 553.4 637.6 554.3C640.0 555.2 640.0 554.9 640.3 556.6C640.5 558.2 640.0 558.2 638.4 559.2C636.7 560.2 637.9 560.2 635.3 559.6C632.8 559.0 633.6 559.1 630.8 557.3C628.0 555.5 629.0 556.6 627.0 554.3C625.0 552.0 626.5 551.5 624.7 550.5C622.9 549.5 623.7 550.4 621.7 551.2C619.7 552.1 620.3 553.0 618.6 553.1C617.0 553.3 617.1 552.8 616.8 551.6C616.4 550.5 616.2 550.6 617.5 549.7C618.8 548.8 619.0 550.1 620.5 549.0C622.1 547.8 622.1 548.3 622.1 546.3C622.1 544.3 620.8 545.3 620.5 542.9C620.3 540.5 620.2 541.6 621.3 539.1C622.4 536.6 622.1 537.9 624.0 535.3C625.8 532.8 624.7 533.6 627.0 531.5C629.3 529.5 627.5 530.5 630.8 529.3C634.1 528.0 632.8 528.5 636.8 527.7C640.9 527.0 639.4 527.4 642.9 527.0C646.4 526.6 646.4 527.9 647.5 526.6C648.5 525.3 645.7 525.0 645.9 523.2C646.2 521.4 647.0 523.8 648.2 521.3C649.5 518.8 647.7 516.9 649.7 515.6Z"/>
<path d="M649.7 516.4C651.2 515.1 651.8 517.4 652.4 520.2C653.0 522.9 650.9 521.9 651.6 524.7C652.4 527.5 654.0 526.5 654.7 528.5C655.3 530.5 655.3 530.9 653.5 530.6C651.8 530.4 651.2 530.0 649.4 527.7C647.5 525.5 647.7 527.7 647.8 524.0C648.0 520.2 648.2 517.6 649.7 516.4Z" fill="#1c1c1c"/>
<path d="M621.3 539.1C622.4 538.1 623.3 538.4 624.0 540.6C624.6 542.9 623.8 543.7 623.2 545.9C622.6 548.2 622.9 548.2 622.1 547.5C621.2 546.7 620.8 546.4 620.5 543.7C620.3 540.9 620.2 540.1 621.3 539.1Z" fill="#1c1c1c"/>
<path d="M617.1 550.1C618.3 549.2 618.8 549.1 620.2 549.4C621.6 549.6 621.8 549.6 621.3 550.9C620.8 552.1 620.2 552.8 618.6 553.1C617.1 553.5 617.3 553.0 616.8 552.0C616.2 551.0 616.0 551.0 617.1 550.1Z" fill="#1c1c1c"/>
</g>
<g id="rat">
<path d="M762.9 478.1C760.4 478.6 760.2 479.7 755.5 479.6C750.7 479.6 753.2 479.4 748.7 477.9C744.2 476.4 746.0 477.2 741.9 475.2C737.9 473.2 738.9 474.3 736.5 471.8C734.1 469.3 734.7 470.2 734.8 467.8C734.9 465.3 734.5 466.1 736.8 464.4C739.2 462.7 738.2 463.2 741.9 462.7C745.6 462.1 744.2 462.2 748.0 462.7C751.9 463.1 750.3 462.6 753.4 464.0C756.6 465.5 756.4 465.2 757.5 467.1C758.6 469.0 758.2 468.4 756.8 469.8C755.5 471.1 756.3 471.1 753.4 471.1C750.6 471.1 750.1 470.2 748.4 469.8" fill="none" stroke="#1c1c1c" stroke-width="3.0" stroke-linecap="round"/>
<path d="M762.9 478.1C760.4 478.6 760.2 479.7 755.5 479.6C750.7 479.6 753.2 479.4 748.7 477.9C744.2 476.4 746.0 477.2 741.9 475.2C737.9 473.2 738.9 474.3 736.5 471.8C734.1 469.3 734.7 470.2 734.8 467.8C734.9 465.3 734.5 466.1 736.8 464.4C739.2 462.7 738.2 463.2 741.9 462.7C745.6 462.1 744.2 462.2 748.0 462.7C751.9 463.1 750.4 462.6 753.4 464.0C756.5 465.5 755.9 466.1 757.2 467.1" fill="none" stroke="#9b9d9d" stroke-width="0.5" stroke-linecap="round"/>
<path class="an" d="M758.2 467.1C758.4 463.5 757.9 464.4 759.5 460.3C761.1 456.2 760.2 457.8 762.9 454.9C765.6 452.0 764.5 453.0 767.7 451.5C770.8 450.0 769.2 450.6 772.4 450.5C775.6 450.4 774.2 450.3 777.1 451.2C780.1 452.1 779.2 451.8 781.2 453.2C783.2 454.6 782.0 455.1 783.2 455.2C784.5 455.3 784.0 455.0 784.9 453.5C785.8 452.1 784.7 452.0 785.9 450.8C787.2 449.7 787.3 450.2 788.6 450.2C790.0 450.2 789.1 451.4 790.0 450.8C790.9 450.3 790.2 449.3 791.4 448.5C792.5 447.7 792.0 447.6 793.4 448.5C794.7 449.4 793.6 449.7 795.4 451.2C797.2 452.6 796.5 451.7 798.8 452.9C801.1 454.0 799.9 453.1 802.2 454.6C804.4 456.0 803.4 455.3 805.6 457.3C807.7 459.2 807.8 458.4 808.6 460.3C809.4 462.2 808.8 461.4 807.9 463.0C807.0 464.6 807.8 464.6 805.9 465.1C804.0 465.5 804.6 463.8 802.2 464.4C799.8 464.9 801.1 465.2 798.8 466.7C796.5 468.3 797.4 467.2 795.4 469.1C793.4 471.0 794.2 470.0 792.7 472.5C791.2 475.0 791.9 474.1 791.0 476.6C790.1 479.0 790.0 477.8 790.0 479.9C790.0 482.1 790.8 481.5 791.0 483.0C791.2 484.5 791.9 483.9 790.7 484.3C789.4 484.8 789.2 485.4 787.3 484.3C785.4 483.3 786.5 483.2 784.9 481.3C783.3 479.4 784.0 480.2 782.5 478.6C781.1 477.0 782.3 477.1 780.5 476.6C778.7 476.0 777.8 475.9 777.1 476.9C776.5 477.9 778.3 478.1 778.5 479.6C778.7 481.1 779.2 481.0 777.8 481.3C776.5 481.6 776.5 481.3 774.4 480.6C772.4 479.9 773.7 480.1 771.7 479.3C769.7 478.5 770.6 478.6 768.3 478.3C766.1 477.9 767.2 478.6 764.9 478.3C762.7 477.9 763.4 478.3 761.6 477.2C759.8 476.2 760.4 477.2 759.5 475.2C758.6 473.2 759.3 473.9 758.9 471.1C758.4 468.4 757.9 470.7 758.2 467.1Z"/>
</g>
<g id="treeshrew">
<path class="an" d="M607.2 305.6C606.7 306.8 606.2 306.5 604.0 307.7C601.7 308.9 602.8 308.4 600.4 309.1C598.0 309.9 598.3 308.8 596.9 309.9C595.4 310.9 596.6 310.3 596.1 312.3C595.7 314.4 595.4 313.9 595.4 315.9C595.4 317.9 595.0 317.1 596.1 318.4C597.3 319.7 597.2 318.9 599.0 319.8C600.8 320.8 601.2 320.3 601.5 321.2C601.7 322.2 601.5 322.3 599.7 322.7C597.9 323.0 598.5 322.9 596.1 322.3C593.8 321.7 595.0 321.5 592.6 320.9C590.2 320.3 591.3 320.5 589.0 320.5C586.8 320.5 586.2 320.0 585.8 320.9C585.5 321.7 587.0 321.3 588.0 323.0C588.9 324.7 589.0 324.3 588.7 325.9C588.3 327.4 588.7 326.7 586.9 327.6C585.1 328.6 585.6 327.9 583.4 328.7C581.1 329.5 580.4 329.3 580.2 330.1C579.9 330.9 580.6 330.9 582.6 331.2C584.7 331.4 584.2 330.6 586.2 330.8C588.2 331.1 588.3 330.9 588.7 331.9C589.0 332.8 588.8 332.6 587.3 333.7C585.7 334.7 586.6 334.6 584.1 335.1C581.6 335.6 582.4 335.4 579.8 335.1C577.2 334.7 578.3 335.2 576.2 334.0C574.2 332.8 574.9 332.8 573.8 331.5C572.6 330.2 573.8 329.6 572.7 330.1C571.6 330.6 572.7 331.1 570.6 333.0C568.4 334.9 569.4 334.1 566.3 335.8C563.2 337.5 564.2 336.3 561.3 337.9C558.5 339.6 559.5 338.4 557.8 340.8C556.0 343.1 557.3 342.7 556.0 345.0C554.7 347.4 555.4 346.9 553.9 347.9C552.3 348.8 552.3 348.8 551.4 347.9C550.4 346.9 550.5 347.2 551.0 345.0C551.5 342.9 551.8 343.6 552.8 341.5C553.7 339.4 552.2 340.8 553.9 338.6C555.5 336.5 554.6 337.5 557.8 335.1C561.0 332.7 559.7 334.0 563.5 331.5C567.2 329.0 567.4 330.5 569.1 327.6C570.9 324.8 568.8 326.2 568.8 323.0C568.8 319.8 568.1 321.1 569.1 318.0C570.2 315.0 569.4 316.4 572.0 313.8C574.6 311.2 573.4 312.1 577.0 310.2C580.5 308.3 578.6 309.0 582.6 308.1C586.7 307.1 586.0 308.3 589.0 307.4C592.1 306.4 590.2 306.9 591.9 305.2C593.5 303.6 592.1 303.6 594.0 302.4C595.9 301.2 595.0 301.6 597.6 301.7C600.2 301.8 599.2 301.9 601.8 302.8C604.4 303.6 603.6 303.2 605.4 304.2C607.2 305.1 607.6 304.4 607.2 305.6Z"/>
</g>
<g id="squirrel">
<path class="an" d="M816.9 276.4C817.1 275.4 817.1 274.7 819.1 273.0C821.1 271.4 820.1 271.7 822.8 271.5C825.5 271.3 824.6 271.2 827.1 272.4C829.6 273.6 828.7 272.9 830.2 275.2C831.7 277.4 831.1 276.4 831.7 279.2C832.3 281.9 831.1 282.9 832.0 283.5C833.0 284.1 832.9 283.1 834.5 281.0C836.1 279.0 835.3 279.1 837.0 277.3C838.6 275.6 837.6 276.4 839.4 275.8C841.3 275.2 840.5 275.0 842.5 275.5C844.6 276.0 843.5 276.0 845.6 277.3C847.6 278.7 847.2 278.0 848.7 279.5C850.1 280.9 849.9 280.3 849.9 281.6C849.9 283.0 850.1 282.7 848.7 283.5C847.2 284.3 847.4 283.3 845.6 284.1C843.7 284.9 844.2 284.8 843.1 285.9C842.1 287.1 841.7 286.9 842.5 287.5C843.3 288.1 844.2 287.2 845.6 287.8C847.0 288.4 845.4 288.3 846.8 289.3C848.3 290.4 848.7 289.9 849.9 290.9C851.1 291.9 851.1 291.7 850.5 292.4C849.9 293.1 850.1 293.1 848.1 293.0C846.0 292.9 846.4 292.2 844.4 292.1C842.3 292.0 842.9 291.5 841.9 292.7C840.9 294.0 841.4 293.5 841.3 295.8C841.2 298.1 841.9 297.2 841.6 299.5C841.3 301.8 841.3 300.7 840.4 302.6C839.4 304.4 838.3 303.9 838.8 305.0C839.3 306.2 840.6 305.2 841.9 306.0C843.2 306.8 843.6 306.7 842.8 307.5C842.0 308.3 842.2 308.3 839.4 308.4C836.7 308.5 837.8 307.9 834.5 307.8C831.2 307.7 832.9 308.2 829.6 308.1C826.3 308.0 827.7 308.7 824.6 307.5C821.6 306.3 823.0 307.1 820.3 304.4C817.7 301.8 818.6 303.0 816.6 299.5C814.7 296.0 815.1 297.7 814.5 294.0C813.9 290.3 814.0 291.9 814.8 288.4C815.6 284.9 815.3 286.6 816.9 283.5C818.6 280.4 818.6 281.3 819.7 279.2C820.8 277.0 820.7 278.0 820.3 277.0C819.9 276.0 819.6 276.3 818.5 276.1C817.4 275.9 816.7 277.4 816.9 276.4Z"/>
<path d="M832.0 283.5C831.0 285.3 831.2 285.5 829.0 289.0C826.7 292.5 827.1 290.9 825.3 294.0C823.4 297.0 823.7 295.0 823.4 298.3C823.1 301.6 824.0 302.0 824.3 303.8" fill="none" stroke="#1c1c1c" stroke-width="2.2" stroke-linecap="round"/>
</g>
<g id="ferret">
<path class="an" d="M803.6 321.4C804.2 319.8 804.4 320.3 806.3 318.1C808.1 316.0 807.3 315.9 809.2 314.9C811.1 313.9 810.1 315.6 811.9 315.2C813.7 314.8 812.9 313.5 814.6 313.7C816.2 313.9 815.5 313.8 816.9 315.8C818.3 317.8 817.5 316.4 818.7 319.6C819.9 322.9 818.5 324.2 820.5 325.6C822.5 326.9 821.9 325.0 824.6 323.8C827.4 322.6 825.8 322.9 828.8 322.0C831.7 321.1 830.4 321.1 833.5 321.1C836.7 321.1 835.1 320.7 838.3 322.0C841.4 323.3 840.2 322.6 843.0 325.0C845.8 327.3 844.8 326.3 846.6 329.1C848.3 331.9 847.3 330.8 848.3 333.3C849.3 335.7 847.5 334.8 849.5 336.5C851.5 338.2 850.9 337.0 854.3 338.3C857.6 339.6 856.6 338.8 859.6 340.4C862.6 342.0 860.9 341.5 863.1 343.0C865.4 344.6 865.8 344.0 866.4 345.1C867.0 346.2 867.0 346.1 864.9 346.3C862.9 346.5 863.5 346.6 860.2 345.7C856.8 344.8 858.2 345.0 854.9 343.6C851.5 342.2 853.1 342.3 850.1 341.6C847.1 340.8 848.3 340.9 846.0 341.3C843.6 341.7 845.0 341.3 843.0 342.7C841.0 344.2 842.2 344.4 840.0 345.7C837.9 347.0 839.2 346.2 836.5 346.6C833.7 347.0 833.8 347.2 831.7 346.9C829.7 346.6 829.7 346.7 830.3 345.7C830.9 344.7 831.4 345.3 833.5 343.9C835.6 342.5 835.3 343.0 836.5 341.6C837.7 340.1 837.7 340.8 837.1 339.5C836.5 338.2 836.9 338.4 834.7 337.7C832.5 337.0 833.5 337.2 830.6 337.4C827.6 337.6 827.8 337.3 825.8 338.3C823.8 339.3 824.9 338.3 824.6 340.4C824.3 342.4 825.5 342.1 824.9 344.5C824.3 346.9 824.5 345.6 822.9 347.5C821.2 349.4 821.7 349.4 819.9 350.1C818.1 350.9 818.5 350.5 817.5 349.9C816.5 349.2 816.3 349.3 816.9 348.1C817.5 346.9 818.1 347.7 819.3 346.3C820.5 344.9 820.5 345.7 820.5 343.9C820.5 342.1 820.3 341.0 819.3 341.0C818.3 341.0 819.1 342.1 817.5 343.9C815.9 345.7 816.7 345.1 814.6 346.3C812.4 347.5 813.3 347.2 811.0 347.5C808.7 347.8 809.0 347.8 807.7 347.2C806.5 346.6 806.3 346.6 807.1 345.7C808.0 344.8 808.4 345.5 810.4 344.5C812.4 343.5 812.1 344.5 813.1 342.7C814.1 341.0 813.9 342.1 813.4 339.2C812.9 336.2 812.6 337.2 811.6 333.9C810.6 330.5 810.9 332.0 810.4 329.1C809.9 326.2 811.3 326.8 810.1 325.3C808.9 323.7 808.7 325.2 806.9 324.4C805.0 323.6 805.6 323.9 804.5 322.9C803.4 321.9 803.0 323.0 803.6 321.4Z"/>
</g>
<g id="owlmonkey">
<path class="an" d="M720.4 167.4C720.9 165.5 720.6 165.7 722.2 164.1C723.8 162.6 723.0 163.2 725.2 162.7C727.4 162.1 726.4 162.1 728.7 162.5C731.1 163.0 730.6 162.7 732.3 164.1C734.0 165.6 732.7 165.0 733.8 166.8C734.9 168.6 733.7 168.8 735.6 169.5C737.4 170.2 736.7 169.7 739.4 168.9C742.1 168.1 740.6 168.0 743.6 167.1C746.5 166.3 745.1 166.3 748.3 166.3C751.5 166.3 749.9 166.2 753.0 167.1C756.2 168.1 754.8 167.6 757.8 169.2C760.7 170.8 759.6 169.8 761.9 171.9C764.3 173.9 762.9 173.1 764.9 175.4C766.9 177.7 766.2 176.4 767.9 178.7C769.5 180.9 769.0 179.7 769.9 182.2C770.8 184.8 770.8 183.6 770.5 186.4C770.2 189.1 770.5 188.1 769.0 190.5C767.6 192.9 768.4 191.9 766.1 193.5C763.7 195.1 764.9 194.6 761.9 195.3C759.0 196.0 760.1 195.7 757.2 195.6C754.2 195.5 755.6 195.1 753.0 195.0C750.5 194.9 751.7 195.8 749.5 195.3C747.3 194.8 747.2 194.5 746.5 193.5C745.8 192.5 746.2 193.1 747.4 192.3C748.6 191.5 749.8 192.7 750.1 191.1C750.4 189.5 749.1 190.1 748.3 187.6C747.5 185.0 748.1 185.6 747.7 183.4C747.3 181.2 748.5 181.7 747.1 181.0C745.7 180.3 745.9 180.7 743.6 181.3C741.2 181.9 741.8 181.9 740.0 182.8C738.2 183.7 738.6 182.9 738.2 184.0C737.8 185.1 739.8 184.5 738.8 186.1C737.8 187.7 737.6 187.1 735.3 188.7C732.9 190.4 734.3 189.7 731.7 191.1C729.1 192.5 730.5 191.9 727.6 192.9C724.6 193.9 725.8 193.7 722.8 194.1C719.9 194.5 720.2 194.6 718.7 194.1C717.1 193.6 717.3 193.8 718.1 192.6C718.9 191.4 718.7 191.4 721.0 190.5C723.4 189.6 722.6 190.9 725.2 189.9C727.8 188.9 726.6 189.2 728.7 187.6C730.9 185.9 731.7 187.1 731.7 184.9C731.7 182.7 730.9 183.5 728.7 181.0C726.6 178.6 727.2 180.2 725.2 177.5C723.2 174.7 724.3 175.3 722.8 172.7C721.3 170.2 721.5 171.6 720.7 169.8C720.0 168.0 720.0 169.3 720.4 167.4Z"/>
<path d="M759.3 187.0C760.8 185.2 762.3 184.9 764.3 184.9C766.3 184.9 765.5 185.4 765.2 187.0C764.9 188.5 765.3 188.5 763.4 189.6C761.5 190.7 760.9 191.1 759.6 190.2C758.2 189.3 757.7 188.7 759.3 187.0Z" fill="#fff" stroke="#1c1c1c" stroke-width="1.4"/>
</g>
<g id="cat">
<path class="an" d="M920.2 155.5C920.1 153.9 920.9 154.1 922.9 154.2C924.9 154.3 924.7 154.0 926.3 155.9C927.9 157.7 926.7 157.1 927.8 159.6C929.0 162.2 927.8 160.8 929.7 163.4C931.6 166.1 930.5 165.8 933.5 167.6C936.5 169.4 935.0 168.2 938.8 168.7C942.6 169.2 940.8 168.6 944.9 169.1C948.9 169.6 946.9 169.6 950.9 170.3C955.0 170.9 953.0 170.9 957.0 171.0C961.0 171.1 959.0 171.0 963.1 170.6C967.1 170.3 965.3 170.3 969.1 169.9C972.9 169.5 971.4 170.5 974.4 169.5C977.5 168.5 976.1 168.1 978.2 166.8C980.4 165.6 979.2 166.0 980.9 165.9C982.5 165.7 982.5 165.5 983.2 166.5C983.8 167.4 982.2 167.0 982.8 168.7C983.4 170.5 983.9 169.6 985.1 171.8C986.2 173.9 986.3 173.2 986.2 175.2C986.1 177.2 986.1 176.8 984.7 177.8C983.3 178.9 984.2 178.0 982.0 178.2C979.9 178.5 980.5 177.5 978.2 178.6C976.0 179.7 977.1 179.1 975.2 181.6C973.3 184.2 972.5 183.7 972.5 186.2C972.5 188.7 973.3 186.7 975.2 189.2C977.1 191.7 976.5 190.7 978.2 193.8C980.0 196.8 980.0 195.7 980.5 198.3C981.0 201.0 981.0 200.5 979.7 201.7C978.5 203.0 978.4 203.0 976.7 202.1C975.1 201.2 976.1 201.6 974.8 199.1C973.6 196.5 974.6 197.0 972.9 194.5C971.3 192.0 971.9 193.0 969.9 191.5C967.9 190.0 968.0 189.5 966.9 190.0C965.7 190.5 966.5 190.7 966.5 193.0C966.5 195.3 965.6 194.5 966.9 196.8C968.1 199.1 969.3 197.9 970.3 199.8C971.3 201.7 971.3 201.5 969.9 202.5C968.5 203.5 968.4 203.7 966.1 202.9C963.8 202.0 964.6 202.6 963.1 199.8C961.6 197.0 962.3 198.1 961.6 194.5C960.8 191.0 961.4 192.0 960.8 189.2C960.2 186.4 961.4 187.3 959.7 186.2C957.9 185.0 958.4 185.6 955.5 185.8C952.6 186.1 954.2 186.9 950.9 186.9C947.7 186.9 948.4 185.7 945.6 185.8C942.9 185.9 944.5 185.4 942.6 187.3C940.7 189.2 940.7 188.8 939.9 191.5C939.2 194.1 939.2 193.3 940.3 195.3C941.5 197.3 941.3 196.0 943.4 197.6C945.4 199.1 945.8 198.1 946.4 199.8C947.0 201.6 946.8 201.7 945.3 202.9C943.7 204.0 944.4 204.0 941.8 203.2C939.3 202.5 939.9 203.2 937.7 200.6C935.4 197.9 935.8 198.8 935.0 195.3C934.3 191.7 935.4 192.8 935.4 190.0C935.4 187.2 936.7 187.4 935.0 186.9C933.4 186.4 933.8 187.2 930.5 188.5C927.2 189.7 927.7 189.0 925.2 190.7C922.6 192.5 922.8 191.5 922.9 193.8C923.0 196.0 925.0 195.4 925.5 197.6C926.0 199.7 926.0 199.4 924.4 200.2C922.8 201.0 922.3 201.0 920.6 199.8C919.0 198.7 919.6 199.3 919.5 196.8C919.4 194.3 919.4 195.3 920.2 192.2C921.1 189.2 920.0 190.5 922.1 187.7C924.3 184.9 924.0 186.9 926.7 183.9C929.3 180.9 928.3 182.4 930.1 178.6C931.9 174.8 932.9 175.6 932.0 172.5C931.1 169.5 929.8 172.3 927.4 169.5C925.0 166.7 926.2 167.7 924.8 164.2C923.4 160.7 924.8 161.8 923.3 158.9C921.8 156.0 920.4 157.0 920.2 155.5Z"/>
</g>
<g id="macaque">
<path class="an" d="M1100.8 139.1C1103.3 137.9 1101.8 137.9 1104.6 138.2C1107.4 138.4 1106.6 138.4 1109.1 139.9C1111.7 141.3 1110.7 140.5 1112.2 142.5C1113.7 144.5 1112.5 143.9 1113.7 145.9C1114.8 147.9 1115.3 146.8 1115.6 148.6C1115.8 150.3 1115.7 150.0 1114.4 151.2C1113.2 152.5 1113.7 152.4 1111.8 152.4C1109.9 152.4 1110.7 151.1 1108.8 151.2C1106.9 151.4 1107.6 151.5 1106.1 152.7C1104.6 154.0 1105.0 152.5 1104.2 155.0C1103.4 157.5 1103.7 156.8 1103.8 160.3C1104.0 163.9 1103.1 162.6 1104.6 165.6C1106.1 168.7 1105.9 166.6 1108.4 169.4C1110.9 172.2 1109.9 171.2 1112.2 174.0C1114.4 176.8 1113.6 175.2 1115.2 177.8C1116.8 180.3 1116.8 179.2 1117.1 181.6C1117.3 184.0 1117.3 183.3 1116.0 185.0C1114.6 186.6 1113.7 187.4 1112.9 186.5C1112.2 185.6 1113.9 185.0 1113.7 182.3C1113.4 179.7 1113.9 181.0 1112.2 178.5C1110.4 176.0 1111.4 177.5 1108.4 174.7C1105.3 172.0 1106.1 173.0 1103.1 170.2C1100.0 167.4 1101.0 168.7 1099.3 166.4C1097.5 164.1 1099.3 163.4 1097.8 163.4C1096.2 163.4 1096.2 163.4 1094.7 166.4C1093.2 169.4 1094.1 168.4 1093.2 172.5C1092.3 176.5 1092.6 175.0 1092.1 178.5C1091.6 182.1 1090.6 180.8 1091.7 183.1C1092.8 185.3 1094.4 184.2 1095.5 185.3C1096.6 186.5 1097.4 186.1 1095.1 186.5C1092.8 186.9 1092.8 186.5 1088.7 186.5C1084.5 186.5 1085.4 186.9 1082.6 186.5C1079.8 186.1 1081.2 187.0 1080.3 185.3C1079.4 183.7 1080.2 184.8 1079.9 181.6C1079.7 178.3 1079.9 179.3 1079.6 175.5C1079.2 171.7 1080.3 173.0 1078.8 170.2C1077.3 167.4 1077.0 167.7 1075.0 167.1C1073.0 166.6 1074.5 166.4 1072.7 168.7C1071.0 170.9 1072.0 170.7 1069.7 174.0C1067.4 177.3 1067.7 176.0 1065.9 178.5C1064.2 181.0 1063.8 179.5 1064.4 181.6C1065.0 183.6 1066.8 182.9 1067.8 184.6C1068.8 186.2 1068.8 186.0 1067.4 186.5C1066.0 187.0 1065.9 187.2 1063.6 186.1C1061.4 185.0 1061.9 185.1 1060.6 183.1C1059.4 181.0 1059.1 182.6 1059.9 180.0C1060.6 177.5 1062.1 178.5 1062.9 175.5C1063.6 172.5 1062.9 174.5 1062.1 170.9C1061.4 167.4 1061.1 168.9 1060.6 164.9C1060.1 160.8 1060.1 162.6 1060.6 158.8C1061.1 155.0 1060.6 155.9 1062.1 153.5C1063.6 151.1 1061.6 152.6 1065.2 151.6C1068.7 150.6 1067.7 151.4 1072.7 150.5C1077.8 149.6 1075.3 149.8 1080.3 149.0C1085.4 148.1 1083.9 149.2 1087.9 147.8C1092.0 146.4 1089.4 146.8 1092.5 144.8C1095.5 142.8 1094.2 143.6 1097.0 141.8C1099.8 139.9 1098.3 140.3 1100.8 139.1Z"/>
<path d="M1065.5 154.4C1067.7 154.2 1068.7 154.0 1069.9 155.9C1071.0 157.9 1070.1 156.8 1069.0 160.3C1067.8 163.8 1068.2 162.3 1066.5 166.4C1064.8 170.4 1065.1 172.0 1063.8 172.5C1062.5 173.0 1063.1 171.4 1062.6 167.9C1062.1 164.4 1062.0 165.6 1062.3 161.8C1062.6 158.1 1062.4 159.0 1063.5 156.5C1064.6 154.1 1063.4 154.6 1065.5 154.4Z" fill="#fff" stroke="#1c1c1c" stroke-width="1.4"/>
<path d="M1085.6 165.5C1087.1 164.2 1088.5 163.2 1089.7 165.5C1091.0 167.8 1089.8 166.6 1089.4 172.5C1089.0 178.3 1090.4 179.4 1088.5 182.9C1086.6 186.5 1085.2 185.5 1083.8 183.1C1082.5 180.6 1084.0 180.0 1084.5 175.5C1085.0 170.9 1084.9 172.8 1085.3 169.4C1085.6 166.1 1084.1 166.8 1085.6 165.5Z" fill="#fff" stroke="#1c1c1c" stroke-width="1.4"/>
</g>
<g id="agouti">
<path class="an" d="M974.2 286.7C973.5 284.8 974.0 285.7 975.7 283.2C977.3 280.7 976.6 281.6 979.2 279.3C981.8 276.9 981.1 278.0 983.5 276.1C985.8 274.2 984.2 274.2 986.3 273.6C988.5 273.0 987.5 273.5 989.9 274.3C992.2 275.1 991.1 274.4 993.4 276.1C995.8 277.7 994.9 277.6 997.0 279.3C999.1 280.9 997.7 280.8 999.8 281.1C1002.0 281.3 1000.8 281.1 1003.4 280.0C1006.0 278.9 1004.3 279.0 1007.6 277.9C1011.0 276.7 1009.5 277.0 1013.3 276.4C1017.1 275.8 1015.0 275.8 1019.0 276.1C1023.0 276.3 1021.4 276.1 1025.4 277.1C1029.4 278.2 1027.5 277.6 1031.1 279.3C1034.7 280.9 1033.2 279.9 1036.1 282.1C1038.9 284.4 1038.0 283.1 1039.6 286.0C1041.3 289.0 1041.0 287.9 1041.0 291.0C1041.0 294.1 1041.0 292.9 1039.6 295.3C1038.2 297.6 1038.9 296.2 1036.8 298.1C1034.7 300.0 1034.9 298.8 1033.2 301.0C1031.6 303.1 1033.0 301.9 1031.8 304.5C1030.6 307.1 1031.3 306.2 1029.7 308.8C1028.0 311.4 1029.0 310.2 1026.8 312.3C1024.7 314.5 1025.6 314.7 1023.3 315.2C1020.9 315.6 1021.4 314.7 1019.7 313.8C1018.1 312.8 1017.8 313.3 1018.3 312.3C1018.8 311.4 1021.4 311.9 1021.1 310.9C1020.9 310.0 1018.3 310.7 1017.6 309.5C1016.9 308.3 1017.1 308.3 1019.0 307.4C1020.9 306.4 1020.7 307.4 1023.3 306.6C1025.9 305.9 1025.2 306.5 1026.8 305.2C1028.5 303.9 1028.7 304.4 1028.3 302.7C1027.8 301.1 1027.5 302.0 1025.4 300.2C1023.3 298.5 1024.2 299.1 1021.9 297.4C1019.5 295.7 1020.9 295.7 1018.3 295.3C1015.7 294.8 1016.9 295.3 1014.0 296.0C1011.2 296.7 1011.9 295.7 1009.8 297.4C1007.6 299.1 1008.8 298.6 1007.6 301.0C1006.5 303.3 1006.0 302.4 1006.2 304.5C1006.5 306.6 1007.5 305.2 1008.4 307.4C1009.2 309.5 1009.4 309.6 1008.7 310.9C1008.0 312.2 1007.8 312.2 1006.2 311.3C1004.7 310.3 1005.5 310.6 1004.1 308.1C1002.7 305.6 1003.1 304.3 1002.0 303.8C1000.8 303.3 1001.7 304.5 1000.5 306.6C999.4 308.8 1000.1 308.1 998.4 310.2C996.7 312.3 997.7 312.0 995.6 313.0C993.4 314.1 993.7 313.9 992.0 313.4C990.3 312.9 990.1 312.9 990.6 311.6C991.1 310.3 991.8 311.4 993.4 309.5C995.1 307.6 994.4 308.8 995.6 305.9C996.7 303.1 997.2 304.0 997.0 301.0C996.7 297.9 995.8 299.5 994.9 296.7C993.9 293.9 995.1 294.9 994.1 292.4C993.2 289.9 994.1 290.4 992.0 289.2C989.9 288.0 990.8 288.6 987.7 288.9C984.7 289.1 986.1 289.9 982.8 289.9C979.5 289.9 980.6 289.9 977.8 288.9C975.0 287.8 975.0 288.6 974.2 286.7Z"/>
</g>
<g id="rabbit">
<path class="an" d="M959.4 323.5C961.5 323.1 960.8 322.9 962.0 324.8C963.1 326.6 963.0 325.9 962.8 329.1C962.7 332.2 962.8 331.3 961.5 334.2C960.3 337.0 959.3 335.2 959.0 337.6C958.7 340.0 958.7 339.0 960.7 341.4C962.7 343.8 961.8 343.0 965.0 344.8C968.1 346.7 966.7 345.1 970.1 347.0C973.5 348.8 972.2 347.5 975.2 350.4C978.2 353.2 976.9 351.8 979.0 355.5C981.2 359.2 980.4 357.8 981.6 361.4C982.7 365.1 982.6 363.4 982.4 366.6C982.3 369.7 980.6 369.0 981.2 370.8C981.7 372.7 983.3 371.0 984.1 372.1C985.0 373.2 985.6 373.1 983.7 374.2C981.9 375.4 982.9 375.1 978.6 375.5C974.3 375.9 976.3 375.4 970.9 375.5C965.5 375.7 967.8 376.1 962.4 375.9C957.0 375.8 959.1 375.8 954.7 375.1C950.3 374.4 951.6 374.9 949.2 373.8C946.8 372.7 947.5 373.0 947.5 371.7C947.5 370.4 947.8 370.8 949.2 370.0C950.6 369.1 950.6 370.8 951.7 369.1C952.9 367.4 953.0 368.0 952.6 364.9C952.2 361.7 952.0 363.2 950.5 359.7C948.9 356.3 949.0 358.0 947.9 354.6C946.8 351.2 948.5 352.4 947.1 349.5C945.6 346.7 945.1 348.1 943.6 346.1C942.2 344.1 942.3 345.5 942.6 343.5C942.9 341.6 942.7 342.4 944.5 340.1C946.3 337.9 945.5 338.4 947.9 336.7C950.3 335.0 949.9 337.0 951.7 335.0C953.6 333.0 952.2 333.7 953.4 330.8C954.7 327.8 953.6 328.5 955.6 326.1C957.6 323.7 957.3 323.9 959.4 323.5Z"/>
</g>
<g id="capybara">
<path class="an" d="M1086.0 254.1C1086.4 251.9 1086.0 252.9 1088.2 251.5C1090.5 250.1 1089.5 250.8 1092.7 249.9C1095.9 249.1 1095.3 249.4 1097.8 249.0C1100.4 248.5 1099.0 249.2 1100.4 248.6C1101.8 248.1 1100.9 247.0 1102.0 247.4C1103.1 247.7 1102.2 249.3 1103.6 249.6C1105.0 249.9 1104.9 248.1 1106.2 248.3C1107.4 248.5 1106.4 248.9 1107.4 250.2C1108.5 251.6 1107.2 251.6 1109.4 252.5C1111.5 253.3 1110.4 252.9 1113.8 252.8C1117.3 252.7 1115.8 252.8 1119.6 252.2C1123.4 251.5 1121.5 251.5 1125.4 250.9C1129.2 250.2 1127.3 250.0 1131.1 250.2C1135.0 250.5 1133.3 250.1 1136.9 251.5C1140.5 252.9 1138.9 252.2 1142.0 254.4C1145.1 256.6 1144.0 255.6 1146.2 258.2C1148.3 260.9 1147.8 259.5 1148.4 262.4C1149.0 265.3 1148.9 264.1 1148.1 266.9C1147.2 269.7 1147.5 268.6 1145.8 270.7C1144.1 272.9 1144.2 271.4 1143.0 273.3C1141.7 275.2 1142.6 274.3 1142.0 276.5C1141.4 278.6 1141.1 277.8 1141.0 279.7C1140.9 281.6 1142.6 281.2 1141.7 282.2C1140.7 283.3 1141.0 282.5 1138.2 282.9C1135.3 283.3 1136.2 283.1 1133.0 283.5C1129.8 283.9 1131.3 284.5 1128.6 284.2C1125.8 283.8 1125.1 283.9 1124.7 282.6C1124.3 281.2 1125.1 281.0 1127.3 280.0C1129.4 279.0 1128.8 280.2 1131.1 279.7C1133.5 279.1 1133.3 279.9 1134.3 278.4C1135.4 276.9 1135.2 276.7 1134.3 275.2C1133.5 273.7 1134.1 274.5 1131.8 273.9C1129.4 273.4 1130.5 273.6 1127.3 273.6C1124.1 273.6 1125.6 273.8 1122.2 273.9C1118.7 274.0 1119.0 272.9 1117.0 273.9C1115.1 275.0 1116.5 274.8 1116.4 277.1C1116.3 279.5 1116.9 278.9 1116.7 281.0C1116.5 283.0 1117.6 282.6 1115.8 283.2C1113.9 283.8 1114.5 282.5 1111.3 282.9C1108.1 283.3 1109.6 284.2 1106.2 284.5C1102.7 284.8 1102.1 284.8 1101.0 283.8C1100.0 282.9 1101.5 283.2 1103.0 281.6C1104.5 280.0 1104.2 281.0 1105.5 279.0C1106.8 277.1 1106.8 278.0 1106.8 275.8C1106.8 273.7 1106.8 275.0 1105.5 272.6C1104.2 270.3 1105.1 271.1 1103.0 268.8C1100.8 266.5 1101.9 267.5 1099.1 265.6C1096.3 263.7 1097.6 264.7 1094.6 263.0C1091.7 261.3 1092.7 262.2 1090.2 260.5C1087.6 258.8 1088.3 260.1 1087.0 257.9C1085.6 255.8 1085.6 256.2 1086.0 254.1Z"/>
</g>
<g id="sheep">
<path class="an" d="M1214.6 238.5C1214.4 236.5 1215.0 237.2 1216.7 234.4C1218.4 231.5 1217.4 231.5 1219.8 229.9C1222.2 228.3 1221.5 230.0 1223.9 229.6C1226.3 229.1 1225.0 228.2 1227.0 228.5C1228.9 228.9 1228.8 229.3 1229.7 230.6C1230.7 231.9 1228.6 231.3 1229.7 232.3C1230.9 233.3 1230.4 233.8 1233.2 233.7C1235.9 233.6 1234.6 233.2 1238.0 232.0C1241.4 230.7 1239.4 230.8 1243.5 229.9C1247.6 229.1 1245.8 229.4 1250.4 229.4C1254.9 229.4 1253.1 228.9 1257.2 229.9C1261.4 230.9 1259.6 230.0 1262.7 232.3C1265.8 234.6 1264.8 233.3 1266.5 236.8C1268.2 240.2 1267.5 238.8 1267.9 242.6C1268.2 246.4 1268.3 244.7 1267.5 248.1C1266.7 251.6 1266.5 249.5 1265.5 252.9C1264.5 256.4 1265.4 255.2 1264.5 258.4C1263.5 261.6 1264.0 260.0 1262.7 262.5C1261.5 265.1 1261.8 263.7 1260.7 266.0C1259.5 268.3 1260.9 268.0 1259.3 269.4C1257.7 270.8 1258.2 270.3 1255.9 270.1C1253.6 269.9 1254.5 269.5 1252.4 268.7C1250.4 267.9 1250.1 268.8 1249.7 267.7C1249.2 266.6 1249.4 266.8 1251.0 265.3C1252.7 263.8 1252.9 265.0 1254.5 263.2C1256.1 261.5 1256.8 261.4 1255.9 260.1C1254.9 258.9 1254.9 259.7 1251.7 259.5C1248.5 259.2 1249.9 259.7 1246.2 259.5C1242.6 259.2 1243.7 258.5 1240.7 258.8C1237.8 259.0 1239.0 259.1 1237.3 260.1C1235.6 261.2 1236.0 260.1 1235.6 261.9C1235.1 263.6 1235.2 263.0 1235.9 265.3C1236.6 267.6 1238.3 267.2 1237.6 268.7C1237.0 270.2 1236.0 268.8 1233.9 269.8C1231.7 270.7 1232.9 270.8 1231.1 271.5C1229.3 272.2 1229.5 272.5 1228.4 271.8C1227.2 271.1 1227.1 270.9 1227.7 269.4C1228.3 267.9 1229.2 269.4 1230.1 267.4C1231.0 265.3 1230.8 266.0 1230.4 263.2C1230.1 260.5 1230.7 261.9 1229.1 259.1C1227.5 256.4 1227.8 257.7 1225.6 255.0C1223.4 252.2 1224.0 253.8 1222.5 250.9C1221.0 247.9 1221.6 249.3 1221.2 246.1C1220.7 242.8 1222.4 243.2 1221.2 241.2C1219.9 239.3 1219.5 241.1 1217.4 240.2C1215.2 239.3 1214.9 240.4 1214.6 238.5Z"/>
<path d="M1252.4 267.4C1253.0 265.5 1254.3 264.3 1256.2 262.5C1258.2 260.8 1257.7 261.1 1258.3 262.2C1258.8 263.4 1257.6 263.6 1257.9 266.0C1258.3 268.4 1260.0 268.2 1259.3 269.4C1258.6 270.7 1257.5 270.2 1255.9 269.8C1254.3 269.3 1255.6 268.8 1254.5 268.0C1253.3 267.2 1251.8 269.2 1252.4 267.4Z" fill="#1c1c1c"/>
</g>
<g id="woman">
<path class="an" d="M1286.6 81.2C1288.8 81.3 1288.5 80.9 1290.6 82.3C1292.7 83.7 1292.0 83.0 1292.9 85.3C1293.8 87.6 1292.8 86.6 1293.2 89.3C1293.7 91.9 1293.4 90.2 1294.2 93.3C1295.0 96.3 1294.8 94.9 1295.5 98.6C1296.3 102.2 1296.9 101.3 1296.5 104.2C1296.2 107.1 1296.0 105.3 1294.6 107.2C1293.1 109.1 1293.6 107.4 1292.2 109.8C1290.9 112.3 1291.2 111.4 1290.6 114.5C1289.9 117.6 1289.8 116.5 1290.2 119.1C1290.7 121.8 1290.8 120.5 1291.9 122.4C1293.0 124.4 1293.3 122.9 1293.6 125.1C1293.8 127.3 1293.3 124.8 1292.6 129.1C1291.8 133.4 1291.3 132.3 1291.2 138.0C1291.1 143.6 1291.3 141.1 1292.2 145.9C1293.1 150.8 1293.2 148.1 1293.9 152.6C1294.6 157.0 1294.3 154.8 1294.2 159.2C1294.1 163.6 1293.7 161.5 1293.6 165.8C1293.4 170.1 1296.4 169.7 1293.9 172.1C1291.3 174.6 1291.1 172.9 1285.9 173.1C1280.7 173.4 1279.2 174.1 1278.3 172.8C1277.4 171.5 1280.4 171.5 1283.3 169.2C1286.1 166.8 1285.7 169.2 1286.9 165.8C1288.1 162.5 1287.1 163.6 1286.9 159.2C1286.7 154.8 1287.1 157.0 1286.3 152.6C1285.4 148.1 1285.6 150.8 1284.3 145.9C1282.9 141.1 1283.7 143.3 1282.3 138.0C1280.8 132.7 1280.6 133.8 1280.0 130.0C1279.3 126.2 1280.0 128.9 1280.3 126.4C1280.6 123.9 1281.4 124.8 1280.9 122.4C1280.5 120.1 1279.3 122.6 1279.0 119.5C1278.6 116.4 1279.4 117.0 1280.0 113.2C1280.5 109.3 1280.6 111.2 1280.6 107.9C1280.6 104.5 1279.4 105.9 1280.0 103.2C1280.5 100.6 1280.3 102.3 1282.3 99.9C1284.3 97.5 1285.5 97.9 1285.9 95.9C1286.4 93.9 1285.0 95.5 1283.6 93.9C1282.2 92.4 1282.6 92.7 1281.6 91.3C1280.6 89.8 1280.6 90.9 1280.6 89.6C1280.7 88.3 1281.4 89.2 1281.8 87.3C1282.3 85.4 1281.2 85.7 1281.9 84.0C1282.7 82.2 1282.4 82.9 1283.9 82.0C1285.5 81.0 1284.4 81.1 1286.6 81.2Z"/>
<path d="M1290.7 91.6C1291.3 90.5 1292.1 90.7 1292.9 91.9C1293.7 93.1 1293.7 94.2 1293.1 95.2C1292.5 96.3 1291.9 96.3 1291.1 95.1C1290.3 93.9 1290.1 92.7 1290.7 91.6Z" fill="#1c1c1c"/>
</g>
<g id="man">
<path class="an" d="M1307.8 89.3C1310.4 89.3 1309.6 88.9 1311.5 90.3C1313.4 91.6 1312.9 90.7 1313.5 93.3C1314.0 95.8 1313.7 95.2 1313.1 97.9C1312.6 100.6 1311.1 99.7 1311.8 101.2C1312.5 102.8 1313.6 101.2 1315.1 102.5C1316.7 103.9 1315.9 102.5 1316.4 105.2C1317.0 107.9 1317.0 107.0 1316.8 110.5C1316.6 114.0 1316.3 112.3 1315.8 115.8C1315.2 119.4 1315.1 117.6 1315.1 121.1C1315.1 124.7 1315.0 122.8 1315.8 126.4C1316.6 130.1 1316.8 128.8 1317.4 132.0C1318.1 135.2 1318.4 133.1 1317.8 136.0C1317.1 138.8 1316.7 137.1 1315.5 140.6C1314.2 144.2 1314.5 142.6 1314.1 146.6C1313.8 150.6 1313.7 148.8 1314.5 152.6C1315.2 156.3 1315.6 154.3 1316.4 157.9C1317.3 161.4 1316.7 159.2 1317.1 163.2C1317.6 167.2 1317.0 166.3 1317.8 169.8C1318.6 173.4 1318.9 171.6 1319.4 173.8C1320.0 176.0 1320.9 174.9 1319.4 176.4C1318.0 178.0 1318.1 177.2 1315.1 178.4C1312.1 179.7 1313.1 179.8 1310.5 180.1C1307.8 180.4 1310.0 179.1 1307.2 179.4C1304.3 179.8 1305.4 180.0 1301.9 181.1C1298.3 182.2 1299.5 182.5 1296.5 182.8C1293.6 183.0 1294.2 182.9 1292.9 181.8C1291.6 180.7 1291.3 181.2 1292.6 179.4C1293.8 177.7 1293.8 178.6 1296.5 176.4C1299.3 174.3 1299.1 175.8 1300.9 173.1C1302.6 170.5 1301.7 172.2 1301.9 168.5C1302.0 164.7 1301.9 166.3 1301.2 161.9C1300.5 157.4 1300.2 159.2 1299.9 155.2C1299.5 151.2 1299.5 153.4 1300.2 149.9C1300.9 146.4 1300.9 148.2 1301.9 144.6C1302.8 140.9 1303.5 141.1 1303.2 139.0C1302.8 136.9 1301.9 139.5 1300.9 138.3C1299.9 137.1 1300.1 138.1 1300.2 135.3C1300.3 132.5 1300.2 132.5 1301.2 130.0C1302.2 127.5 1302.7 130.3 1303.2 127.8C1303.6 125.2 1302.8 126.0 1302.5 122.4C1302.2 118.9 1302.4 120.5 1302.2 117.1C1302.0 113.8 1301.3 115.4 1301.9 112.5C1302.4 109.6 1302.4 110.9 1303.8 108.5C1305.3 106.1 1305.4 107.0 1306.2 105.2C1306.9 103.4 1307.3 104.1 1306.2 103.2C1305.1 102.3 1304.3 103.4 1302.8 102.5C1301.4 101.7 1302.5 101.8 1301.9 100.6C1301.2 99.3 1301.0 100.2 1300.9 98.9C1300.7 97.6 1301.5 98.0 1301.5 96.6C1301.5 95.1 1301.1 96.2 1300.9 94.6C1300.6 92.9 1299.9 93.0 1300.9 91.6C1301.9 90.2 1301.5 91.0 1303.8 90.3C1306.2 89.5 1305.3 89.3 1307.8 89.3Z"/>
<path d="M1309.2 167.2C1310.5 166.7 1311.1 168.5 1311.3 171.1C1311.5 173.8 1311.0 173.6 1309.8 175.1C1308.7 176.7 1308.7 176.7 1307.8 175.8C1306.9 174.9 1306.7 175.3 1307.2 172.5C1307.6 169.6 1307.8 167.6 1309.2 167.2Z" fill="#fff" stroke="#1c1c1c" stroke-width="0.8"/>
<path d="M1306.8 152.6C1307.4 155.0 1308.2 155.0 1308.6 159.9C1309.0 164.7 1308.5 162.7 1308.0 167.2C1307.4 171.6 1307.2 171.1 1306.9 173.1" fill="none" stroke="#1c1c1c" stroke-width="1.5" stroke-linecap="round"/>
</g>
</svg></body></html>
